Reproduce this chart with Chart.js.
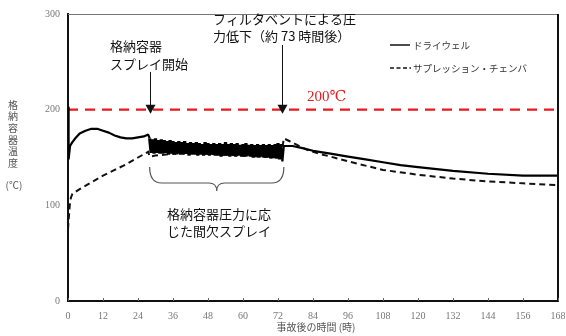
<!DOCTYPE html>
<html><head><meta charset="utf-8">
<script src="https://cdn.jsdelivr.net/npm/chart.js@4/dist/chart.umd.min.js"></script>
<style>html,body{margin:0;padding:0;background:#fff;overflow:hidden}</style>
</head><body>
<canvas id="c" width="566" height="336"></canvas>
<script>
const xTickValues = [0,12,24,36,48,60,72,84,96,108,120,132,144,156,168];
const yTickValues = [0,100,200,300];
const seriesNames = ['ドライウェル','サプレッション・チェンバ'];

const dwTime = [0,0.1,0.3,0.7,1.5,2.5,4,6,8,10,12,14,16,18,20,22,24,26,27.5,
 28,28.5,29,29.5,30,30.5,31,31.5,32,32.5,33,33.5,34,34.5,35,35.5,36,36.5,37,37.5,38,38.5,39,39.5,40,40.5,
 41,41.5,42,42.5,43,43.5,44,44.5,45,45.5,46,46.5,47,47.5,48,48.5,49,49.5,50,50.5,51,51.5,52,52.5,53,53.5,
 54,54.5,55,55.5,56,56.5,57,57.5,58,58.5,59,59.5,60,60.5,61,61.5,62,62.5,63,63.5,64,64.5,65,65.5,66,66.5,
 67,67.5,68,68.5,69,69.5,70,70.5,71,71.5,72,72.5,73,
 73.5,74,77,80,84,90,96,102,108,114,120,132,144,156,168];
const dwTemp = [150,203,148,162,166,170,175,178,180,180,178,176,173,171,170,170,171,172,174,
 170,155,169,154,170,155,168,154,169,154,168,155,167,153,168,154,167,153,166,154,167,153,166,153,167,154,
 165,152,166,153,165,153,166,152,165,153,164,152,166,153,165,152,164,153,165,152,164,152,165,151,164,152,
 166,152,164,151,165,152,164,151,165,152,163,151,164,151,165,152,163,151,164,150,163,151,164,150,163,151,
 164,150,163,150,164,149,163,150,164,149,165,148,164,
 146,162,162,160,157,154,151,148,145,142,140,136,133,131,131];

const scTime = [0,0.3,0.6,1,1.5,4,8,12,16,20,24,27.5,28,30,36,42,48,54,60,66,72,73,74,76,78,82,86,90,96,108,120,132,144,156,168];
const scTemp = [75,88,100,108,112,117,124,131,137,143,150,156,151,152,154,155,154,153,152,151,150,150,170,167,164,158,154,151,146,137,132,128,125,123,121];

const limitTime = [0,168];
const limitTemp = [200,200];

const pts = (t,v) => t.map((x,i)=>({x:x,y:v[i]}));
const JP = '"Noto Sans CJK JP", sans-serif';
const SERIF = '"Liberation Serif", "DejaVu Serif", serif';

const overlay = {
  id:'overlay',
  afterDraw(chart){
    const ctx = chart.ctx, a = chart.chartArea;
    const xs = chart.scales.x, ys = chart.scales.y;
    ctx.save();
    ctx.strokeStyle = '#777'; ctx.lineWidth = 1;
    ctx.beginPath(); ctx.moveTo(a.left, a.top+0.5); ctx.lineTo(a.right, a.top+0.5); ctx.stroke();
    ctx.strokeStyle = '#111'; ctx.lineWidth = 2;
    ctx.beginPath(); ctx.moveTo(a.right, a.top); ctx.lineTo(a.right, a.bottom+1); ctx.stroke();
    ctx.strokeStyle = '#666'; ctx.lineWidth = 1;
    xTickValues.forEach(v=>{
      const px = Math.round(xs.getPixelForValue(v))+0.5;
      ctx.beginPath(); ctx.moveTo(px, a.bottom); ctx.lineTo(px, a.bottom-3); ctx.stroke();
    });
    ctx.fillStyle = '#555'; ctx.font = '10px ' + JP; ctx.textAlign='center'; ctx.textBaseline='middle';
    const yt = ['格','納','容','器','温','度'];
    yt.forEach((ch,i)=>ctx.fillText(ch, 13, 105 + i*11.6));
    ctx.fillText('(℃)', 14, 185);
    ctx.fillText('事故後の時間 (時)', (a.left+a.right)/2 + 3, 327);
    ctx.strokeStyle = '#111'; ctx.lineWidth = 1.5;
    ctx.beginPath(); ctx.moveTo(390,45); ctx.lineTo(410,45); ctx.stroke();
    ctx.setLineDash([4,2.5]);
    ctx.beginPath(); ctx.moveTo(390,68); ctx.lineTo(411,68); ctx.stroke();
    ctx.setLineDash([]);
    ctx.fillStyle = '#333'; ctx.font = '9.5px ' + JP; ctx.textAlign='left';
    ctx.fillText(seriesNames[0], 413, 45);
    ctx.fillText(seriesNames[1], 413, 68);
    ctx.fillStyle = '#111'; ctx.font = '13px ' + JP; ctx.textAlign='left';
    ctx.fillText('格納容器', 110, 46);
    ctx.fillText('スプレイ開始', 110, 64);
    ctx.fillText('フィルタベントによる圧', 213, 19);
    ctx.fillText('力低下（約 73 時間後）', 213, 36);
    ctx.fillText('格納容器圧力に応', 167, 214);
    ctx.fillText('じた間欠スプレイ', 167, 231);
    ctx.fillStyle = '#e02020'; ctx.font = '15px ' + SERIF;
    ctx.fillText('200℃', 307, 97);
    const tipY = ys.getPixelForValue(200) + 4;
    [[28, 72],[73.5, 45]].forEach(([t,y0])=>{
      const px = Math.round(xs.getPixelForValue(t))+0.5;
      ctx.strokeStyle = '#111'; ctx.lineWidth = 1;
      ctx.beginPath(); ctx.moveTo(px, y0); ctx.lineTo(px, tipY-6); ctx.stroke();
      ctx.fillStyle = '#111';
      ctx.beginPath(); ctx.moveTo(px-5, tipY-9); ctx.lineTo(px+5, tipY-9); ctx.lineTo(px, tipY); ctx.closePath(); ctx.fill();
    });
    const bx0 = xs.getPixelForValue(28), bx1 = xs.getPixelForValue(74);
    const bm = (bx0+bx1)/2, by0 = 167, by1 = 183, by2 = 191;
    ctx.strokeStyle = '#555'; ctx.lineWidth = 1.2;
    ctx.beginPath();
    ctx.moveTo(bx0, by0);
    ctx.quadraticCurveTo(bx0, by1, bx0+12, by1);
    ctx.lineTo(bm-8, by1);
    ctx.quadraticCurveTo(bm, by1, bm, by2);
    ctx.quadraticCurveTo(bm, by1, bm+8, by1);
    ctx.lineTo(bx1-12, by1);
    ctx.quadraticCurveTo(bx1, by1, bx1, by0);
    ctx.stroke();
    ctx.restore();
  }
};

new Chart(document.getElementById('c'), {
  type:'line',
  data:{datasets:[
    {label:seriesNames[0], data:pts(dwTime,dwTemp), borderColor:'#000', borderWidth:2.2, pointRadius:0, tension:0, borderJoinStyle:'bevel',
     segment:{borderWidth: c => (c.p0.parsed.x >= 28 && c.p1.parsed.x <= 73) ? 3.2 : undefined}},
    {label:seriesNames[1], data:pts(scTime,scTemp), borderColor:'#111', borderWidth:2, borderDash:[6,4], pointRadius:0, tension:0},
    {label:'200℃', data:pts(limitTime,limitTemp), borderColor:'#e8191f', borderWidth:2.2, borderDash:[10,7], pointRadius:0, tension:0}
  ]},
  options:{
    responsive:false, animation:false, devicePixelRatio:1,
    layout:{padding:{top:14,right:8,left:0,bottom:0}},
    plugins:{legend:{display:false}, tooltip:{enabled:false}},
    scales:{
      x:{type:'linear', min:0, max:168,
         afterBuildTicks(s){ s.ticks = xTickValues.map(v=>({value:v})); },
         afterFit(s){ s.height = 35; s.paddingLeft = 0; s.paddingRight = 0; },
         grid:{display:false, drawTicks:false},
         border:{display:true, color:'#111', width:2},
         ticks:{padding:9, color:'#777', font:{family:SERIF, size:10}, maxRotation:0, autoSkip:false}},
      y:{type:'linear', min:0, max:300,
         afterBuildTicks(s){ s.ticks = yTickValues.map(v=>({value:v})); },
         afterFit(s){ s.width = 68; s.paddingTop = 0; s.paddingBottom = 0; },
         grid:{display:false, drawTicks:false},
         border:{display:true, color:'#111', width:2},
         ticks:{padding:8, color:'#777', font:{family:SERIF, size:10}}}
    }
  },
  plugins:[overlay]
});
</script>
</body></html>
